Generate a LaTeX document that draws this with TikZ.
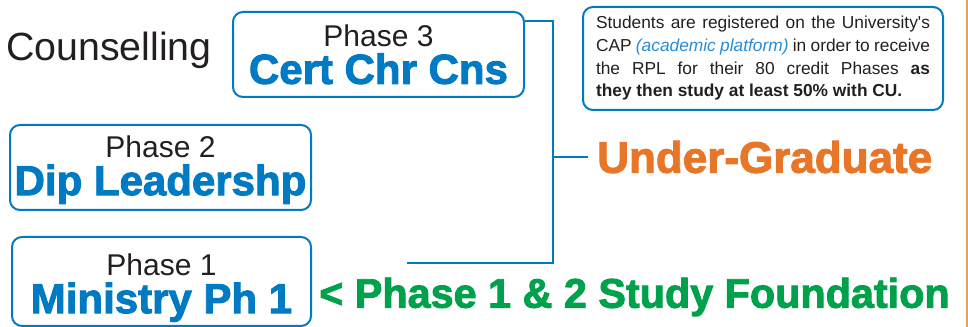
\documentclass[tikz,border=0pt]{standalone}
\usepackage{fontspec}
\setmainfont{Liberation Sans}
\newfontfamily\heavyfont[FakeBold=2.2]{Liberation Sans Bold}
\definecolor{cublue}{RGB}{0,122,194}
\definecolor{culight}{RGB}{40,140,212}
\definecolor{cuorange}{RGB}{232,118,40}
\definecolor{cugreen}{RGB}{0,161,75}
\definecolor{cutext}{RGB}{35,31,32}
\definecolor{cutan}{RGB}{236,160,80}
\tikzset{
  phasebox/.style={draw=cublue, line width=1.5pt, rounded corners=7.5pt,
    align=center, inner sep=0pt, text=cutext,
    font=\fontsize{22.5}{27}\selectfont},
  link/.style={draw=cublue, line width=1.5pt},
}
\newcommand{\phaselabel}[3][0pt]{\rule{0pt}{#1}Phase #2\\[1pt]{\heavyfont\fontsize{31.5}{34}\selectfont\color{cublue}#3}}

\begin{document}
\begin{tikzpicture}[x=0.75pt, y=-0.75pt]
  \useasboundingbox (0,0) rectangle (968,327);
  %
  \node[text=cutext, font=\fontsize{29.5}{34}\selectfont] (couns) at (109,50) {Counselling};
  %
  \node[phasebox, minimum width=218.25pt, minimum height=63.75pt] (p3) at (378.5,54.5)
    {\phaselabel{3}{Cert Chr Cns}};   % top box
  \node[phasebox, minimum width=225.75pt, minimum height=63.75pt] (p2) at (160.5,167.5)
    {\phaselabel[20pt]{2}{Dip Leadershp}};  % middle box
  \node[phasebox, minimum width=224.25pt, minimum height=66.75pt] (p1) at (161.5,281.5)
    {\phaselabel[26pt]{1}{Ministry Ph 1}};  % bottom box
  %
  \node[draw=cublue, line width=1.5pt, rounded corners=7.5pt, minimum width=270pt,
    minimum height=77.25pt, text width=250.5pt, align=justify, text=cutext,
    font=\fontsize{13}{17}\selectfont] (info) at (763,58.5)
    {Students are registered on the University\textquotesingle s\linebreak
     CAP {\color{culight}\itshape (academic platform)} in order to receive\linebreak
     the RPL for their 80 credit Phases \textbf{as\linebreak
     they then study at least 50\% with CU.}};
  %
  \node[anchor=west, inner sep=0pt, inner xsep=6.75pt, text=cuorange,
    font=\heavyfont\fontsize{33}{36}\selectfont] (ug) at (588,157) {Under-Graduate};
  \node[anchor=west, inner sep=0pt, text=cugreen,
    font=\heavyfont\fontsize{31}{34}\selectfont] (found) at (319,297)
    {< Phase 1 \& 2 Study Foundation};
  %
  \coordinate (spine) at (553,157);
  \coordinate (tail) at (407,263);
  \draw[link] ([yshift=-7.5pt]p3.north east) -| (tail -| spine) -- (tail);
  \draw[link] (spine) -- (ug.west);
  %
  \draw[cutan, line width=1.5pt] (966.5,0) -- (966.5,327);   % right rule
\end{tikzpicture}
\end{document}
